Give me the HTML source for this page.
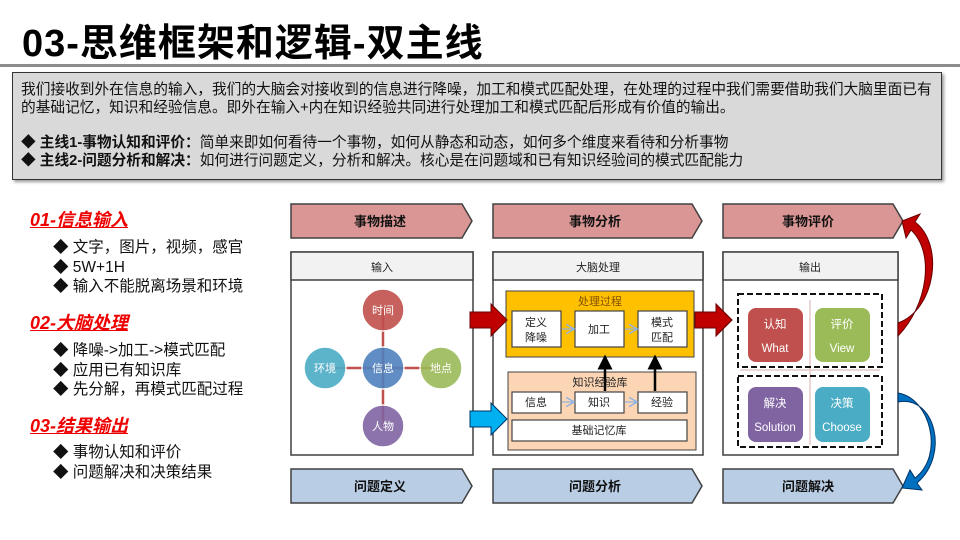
<!DOCTYPE html>
<html><head><meta charset="utf-8"><style>
body{margin:0;width:960px;height:540px;background:#fff;position:relative;overflow:hidden;font-family:"Liberation Sans","Noto Sans CJK SC",sans-serif}
.a{position:absolute;white-space:nowrap}
h1{position:absolute;left:22px;top:12px;margin:0;font-size:38px;letter-spacing:1px;font-weight:bold;color:#000}
.info{position:absolute;left:12px;top:72px;width:928px;height:106px;background:#d9d9d9;border:1px solid #333;box-shadow:2px 2px 3px #999;font-size:14.7px;color:#111;line-height:18px}
.h{font-size:18px;color:#e00;font-weight:bold;font-style:italic;text-decoration:underline}
.b{font-size:15.5px;color:#111;line-height:19.5px}
</style></head><body>
<h1>03-思维框架和逻辑-双主线</h1>
<div class="a" style="left:0;top:64px;width:960px;height:3px;background:#8c8c8c"></div>
<div class="info">
<div class="a" style="left:8px;top:8px">我们接收到外在信息的输入，我们的大脑会对接收到的信息进行降噪，加工和模式匹配处理，在处理的过程中我们需要借助我们大脑里面已有</div>
<div class="a" style="left:8px;top:26px">的基础记忆，知识和经验信息。即外在输入+内在知识经验共同进行处理加工和模式匹配后形成有价值的输出。</div>
<div class="a" style="left:8px;top:61px">◆ <b>主线1-事物认知和评价：</b>简单来即如何看待一个事物，如何从静态和动态，如何多个维度来看待和分析事物</div>
<div class="a" style="left:8px;top:79px">◆ <b>主线2-问题分析和解决：</b>如何进行问题定义，分析和解决。核心是在问题域和已有知识经验间的模式匹配能力</div>
</div>
<div class="a h" style="left:30px;top:206px">01-信息输入</div>
<div class="a b" style="left:53px;top:238px">◆ 文字，图片，视频，感官<br>◆ 5W+1H<br>◆ 输入不能脱离场景和环境</div>
<div class="a h" style="left:30px;top:309px">02-大脑处理</div>
<div class="a b" style="left:53px;top:341px">◆ 降噪->加工->模式匹配<br>◆ 应用已有知识库<br>◆ 先分解，再模式匹配过程</div>
<div class="a h" style="left:30px;top:412px">03-结果输出</div>
<div class="a b" style="left:53px;top:443px">◆ 事物认知和评价<br>◆ 问题解决和决策结果</div>

<svg class="a" style="left:0;top:0" width="960" height="540" font-family="Liberation Sans,Noto Sans CJK SC,sans-serif">
<defs><marker id="m" markerWidth="8" markerHeight="8" refX="6" refY="4" orient="auto"><path d="M0,0L7,4L0,8" fill="none" stroke="#8db3e2" stroke-width="1.2"/></marker>
<marker id="k" markerWidth="6" markerHeight="6" refX="3" refY="3" orient="auto"><path d="M0,0L6,3L0,6Z" fill="#000"/></marker></defs>
<g stroke="#404040" stroke-width="1.5">
<path d="M291,204H462L472,221L462,238H291Z" fill="#d99694"/>
<path d="M493,204H692L702,221L692,238H493Z" fill="#d99694"/>
<path d="M723,204H893L903,221L893,238H723Z" fill="#d99694"/>
<path d="M291,469H462L472,486L462,503H291Z" fill="#b9cde5"/>
<path d="M493,469H692L702,486L692,503H493Z" fill="#b9cde5"/>
<path d="M723,469H893L903,486L893,503H723Z" fill="#b9cde5"/>
<rect x="291" y="252" width="182" height="203" fill="#fff"/><rect x="291" y="252" width="182" height="28" fill="#f2f2f2"/>
<rect x="493" y="252" width="210" height="203" fill="#fff"/><rect x="493" y="252" width="210" height="28" fill="#f2f2f2"/>
<rect x="723" y="252" width="175" height="203" fill="#fff"/><rect x="723" y="252" width="175" height="28" fill="#f2f2f2"/>
</g>
<g font-size="13" font-weight="bold" text-anchor="middle" fill="#111">
<text x="380" y="226">事物描述</text><text x="595" y="226">事物分析</text><text x="808" y="226">事物评价</text>
<text x="380" y="491">问题定义</text><text x="595" y="491">问题分析</text><text x="808" y="491">问题解决</text></g>
<g font-size="11" text-anchor="middle" fill="#222"><text x="382" y="271">输入</text><text x="598" y="271">大脑处理</text><text x="810" y="271">输出</text></g>
<g stroke="#c0504d" stroke-width="2.5"><line x1="383" y1="310" x2="383" y2="426"/><line x1="325" y1="368" x2="441" y2="368"/></g>
<g stroke="#fff" stroke-width="1.5" opacity=".9">
<circle cx="383" cy="310" r="21" fill="#c0504d"/><circle cx="383" cy="368" r="21" fill="#4f81bd"/>
<circle cx="325" cy="368" r="21" fill="#4bacc6"/><circle cx="441" cy="368" r="21" fill="#9bbb59"/>
<circle cx="383" cy="426" r="21" fill="#8064a2"/></g>
<g font-size="11" fill="#fff" text-anchor="middle"><text x="383" y="314">时间</text><text x="383" y="372">信息</text><text x="325" y="372">环境</text><text x="441" y="372">地点</text><text x="383" y="430">人物</text></g>
<rect x="506" y="291" width="188" height="66" fill="#ffc000" stroke="#444"/>
<rect x="508" y="372" width="188" height="78" fill="#fcd5b5" stroke="#444"/>
<g fill="#fff" stroke="#444" stroke-width="1.2">
<rect x="512" y="311" width="49" height="36"/><rect x="575" y="311" width="49" height="36"/><rect x="638" y="311" width="49" height="36"/>
<rect x="512" y="392" width="49" height="21"/><rect x="575" y="392" width="49" height="21"/><rect x="638" y="392" width="49" height="21"/>
<rect x="512" y="420" width="175" height="21"/></g>
<g stroke="#8db3e2" stroke-width="1.2" marker-end="url(#m)"><line x1="562" y1="329" x2="573" y2="329"/><line x1="625" y1="329" x2="636" y2="329"/><line x1="562" y1="402" x2="573" y2="402"/><line x1="625" y1="402" x2="636" y2="402"/></g>
<g stroke="#000" stroke-width="2.5" marker-end="url(#k)"><line x1="605" y1="391" x2="605" y2="362"/><line x1="655" y1="391" x2="655" y2="362"/></g>
<g font-size="11" text-anchor="middle" fill="#222">
<text x="600" y="305" fill="#7f4f00">处理过程</text><text x="600" y="386">知识经验库</text>
<text x="536" y="326">定义</text><text x="536" y="341">降噪</text><text x="599" y="333">加工</text><text x="662" y="326">模式</text><text x="662" y="341">匹配</text>
<text x="536" y="406">信息</text><text x="599" y="406">知识</text><text x="662" y="406">经验</text><text x="599" y="434">基础记忆库</text></g>
<path d="M470,312H491V304L507,320L491,336V328H470Z" fill="#c00000" stroke="#600" />
<path d="M695,312H716V304L732,320L716,336V328H695Z" fill="#c00000" stroke="#600"/>
<path d="M470,411H491V403L507,419L491,435V427H470Z" fill="#00b0f0" stroke="#036"/>
<g stroke="#e6c9c9" stroke-width="1.5"><line x1="810" y1="300" x2="810" y2="445"/><line x1="740" y1="370" x2="880" y2="370"/></g>
<g fill="none" stroke="#111" stroke-width="2" stroke-dasharray="6,3"><rect x="738" y="294" width="144" height="73"/><rect x="738" y="376" width="144" height="71"/></g>
<rect x="748" y="308" width="55" height="54" rx="8" fill="#c0504d"/><rect x="815" y="308" width="55" height="54" rx="8" fill="#9bbb59"/>
<rect x="748" y="387" width="55" height="55" rx="8" fill="#8064a2"/><rect x="815" y="387" width="55" height="55" rx="8" fill="#4bacc6"/>
<g font-size="11.5" fill="#fff" text-anchor="middle">
<text x="775" y="328">认知</text><text x="775" y="352">What</text><text x="842" y="328">评价</text><text x="842" y="352">View</text>
<text x="775" y="407">解决</text><text x="775" y="431">Solution</text><text x="842" y="407">决策</text><text x="842" y="431">Choose</text></g>
<path d="M898,323C935,310 945,245 915,222L920,214L902,221L906,238L911,230C935,252 928,305 898,336Z" fill="#c00000" stroke="#600"/>
<path d="M898,393C930,398 945,455 915,478L910,470L902,488L922,490L917,483C950,455 935,395 898,402Z" fill="#0070c0" stroke="#036"/>
</svg>
</body></html>
